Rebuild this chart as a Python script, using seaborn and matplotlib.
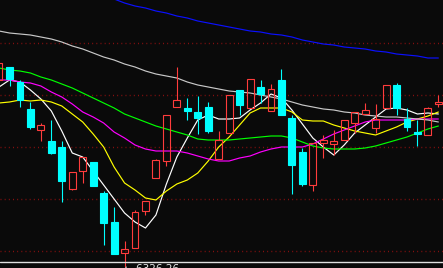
import numpy as np
import pandas as pd
import matplotlib
matplotlib.use("Agg")
import matplotlib.pyplot as plt
import seaborn as sns

# ---- candle data (index points) ----
opens  = [6700, 6726, 6696, 6642, 6600, 6578, 6566, 6482, 6518, 6536,
          6474, 6416, 6354, 6364, 6438, 6504, 6538, 6646, 6644, 6636,
          6646, 6542, 6594, 6680, 6644, 6686, 6638, 6700, 6624, 6556,
          6490, 6574, 6572, 6580, 6614, 6632, 6604, 6644, 6690, 6622,
          6596, 6590, 6652]
highs  = [6734, 6726, 6700, 6656, 6614, 6620, 6578, 6516, 6546, 6536,
          6478, 6446, 6378, 6440, 6458, 6542, 6630, 6726, 6664, 6668,
          6656, 6598, 6670, 6680, 6702, 6700, 6692, 6722, 6630, 6564,
          6574, 6590, 6600, 6620, 6636, 6654, 6652, 6690, 6694, 6644,
          6620, 6646, 6670]
lows   = [6700, 6688, 6646, 6602, 6578, 6552, 6456, 6480, 6494, 6488,
          6370, 6352, 6326.26, 6364, 6430, 6504, 6528, 6646, 6620, 6592,
          6594, 6542, 6594, 6630, 6644, 6654, 6638, 6630, 6472, 6488,
          6478, 6544, 6550, 6580, 6594, 6632, 6594, 6644, 6630, 6598,
          6568, 6590, 6646]
closes = [6734, 6702, 6660, 6606, 6610, 6554, 6498, 6516, 6546, 6488,
          6414, 6352, 6362, 6436, 6458, 6540, 6630, 6660, 6638, 6624,
          6598, 6580, 6670, 6650, 6702, 6672, 6682, 6630, 6530, 6492,
          6574, 6580, 6578, 6620, 6636, 6640, 6622, 6690, 6644, 6606,
          6592, 6644, 6656]

# ---- moving averages ----
ma5   = [6686, 6700, 6696, 6680, 6662, 6638, 6598, 6554, 6546, 6518,
         6490, 6462, 6434, 6416, 6404, 6430, 6492, 6546, 6584, 6620,
         6630, 6622, 6622, 6624, 6640, 6654, 6672, 6664, 6640, 6612,
         6584, 6566, 6550, 6570, 6594, 6610, 6626, 6642, 6644, 6640,
         6632, 6634, 6632]
ma10  = [6654, 6656, 6660, 6658, 6660, 6656, 6648, 6632, 6616, 6592,
         6566, 6526, 6494, 6480, 6464, 6460, 6478, 6492, 6500, 6514,
         6538, 6566, 6586, 6610, 6634, 6644, 6644, 6644, 6636, 6620,
         6618, 6618, 6610, 6604, 6598, 6594, 6590, 6598, 6606, 6616,
         6622, 6628, 6636]
ma20  = [6700, 6700, 6696, 6694, 6688, 6676, 6666, 6652, 6636, 6626,
         6614, 6596, 6584, 6570, 6562, 6558, 6558, 6558, 6554, 6548,
         6542, 6538, 6538, 6544, 6548, 6556, 6562, 6566, 6566, 6566,
         6572, 6582, 6592, 6600, 6608, 6616, 6620, 6620, 6620, 6620,
         6622, 6622, 6622]
ma30  = [6724, 6720, 6718, 6714, 6706, 6700, 6692, 6684, 6674, 6664,
         6654, 6644, 6632, 6624, 6616, 6608, 6602, 6596, 6590, 6582,
         6580, 6580, 6580, 6582, 6584, 6586, 6588, 6588, 6584, 6576,
         6568, 6564, 6562, 6562, 6562, 6564, 6568, 6574, 6580, 6586,
         6594, 6602, 6608]
ma60  = [6798, 6794, 6792, 6790, 6786, 6782, 6776, 6768, 6762, 6754,
         6746, 6740, 6732, 6726, 6718, 6712, 6708, 6704, 6696, 6690,
         6686, 6682, 6678, 6676, 6674, 6670, 6666, 6662, 6656, 6650,
         6646, 6642, 6640, 6636, 6634, 6630, 6628, 6626, 6626, 6624,
         6622, 6620, 6616]
ma120 = [np.nan] * 11 + [
         6862, 6854, 6848, 6844, 6838, 6834, 6828, 6824, 6818,
         6814, 6810, 6806, 6802, 6798, 6796, 6792, 6790, 6786, 6780,
         6776, 6772, 6770, 6766, 6764, 6762, 6758, 6756, 6752, 6750,
         6748, 6744, 6744]

grid_levels = [6774, 6670, 6566, 6462, 6358]
base_level = 6336
low_label = "\u2190 6326.26"
low_index = 12

BG = "#0a0a0a"
UP = "#ff3c3c"
DOWN = "#00ffff"

sns.set_style("dark", {"axes.facecolor": BG, "figure.facecolor": BG})
plt.rcParams["font.family"] = ["DejaVu Sans"]

fig = plt.figure(figsize=(4.43, 2.68), dpi=100)
fig.patch.set_facecolor(BG)
ax = fig.add_axes([0, 0, 1, 1])
ax.set_facecolor(BG)

n = len(opens)
x = np.arange(n)

# grid lines
for g in grid_levels:
    ax.axhline(g, color="#8a1010", lw=1.0, ls=(0, (0.7, 2.3)), zorder=1)
ax.axhline(base_level, color="#e0e0e0", lw=1.0, zorder=4)

# moving average lines via seaborn
names = ["MA5", "MA10", "MA20", "MA30", "MA60", "MA120"]
series = [ma5, ma10, ma20, ma30, ma60, ma120]
colors = ["#ffffff", "#ffff00", "#ff00ff", "#00ff00", "#c8c8c8", "#0a10ff"]
frames = []
for nm, s in zip(names, series):
    frames.append(pd.DataFrame({"i": x, "v": s, "ma": nm}))
df = pd.concat(frames, ignore_index=True).dropna()
sns.lineplot(data=df, x="i", y="v", hue="ma", palette=dict(zip(names, colors)),
             estimator=None, sort=False, lw=0.85, legend=False, ax=ax, zorder=2)

# candles
w = 0.66
for i in range(n):
    o, h, l, c = opens[i], highs[i], lows[i], closes[i]
    top, bot = max(o, c), min(o, c)
    if c >= o:
        ax.vlines(i, top, h, color=UP, lw=0.8, zorder=3)
        ax.vlines(i, l, bot, color=UP, lw=0.8, zorder=3)
        ax.bar(i, max(top - bot, 0.5), bottom=bot, width=w, facecolor="none",
               edgecolor=UP, linewidth=0.8, zorder=3)
    else:
        ax.vlines(i, l, h, color=DOWN, lw=0.8, zorder=3)
        ax.bar(i, max(top - bot, 0.5), bottom=bot, width=w, facecolor=DOWN,
               edgecolor=DOWN, linewidth=0.8, zorder=3)

ax.text(low_index - 0.05, 6331, low_label, color="#e8e8e8", fontsize=7.5,
        ha="left", va="top", zorder=5, clip_on=False)

ax.set_xlim((0 + 0.96) / 10.46, (443 + 0.96) / 10.46)
ax.set_ylim(6324, 6860)
ax.set_xticks([])
ax.set_yticks([])
ax.set_xlabel("")
ax.set_ylabel("")
for sp in ax.spines.values():
    sp.set_visible(False)
ax.grid(False)

fig.savefig("out.png", dpi=100, facecolor=BG)
